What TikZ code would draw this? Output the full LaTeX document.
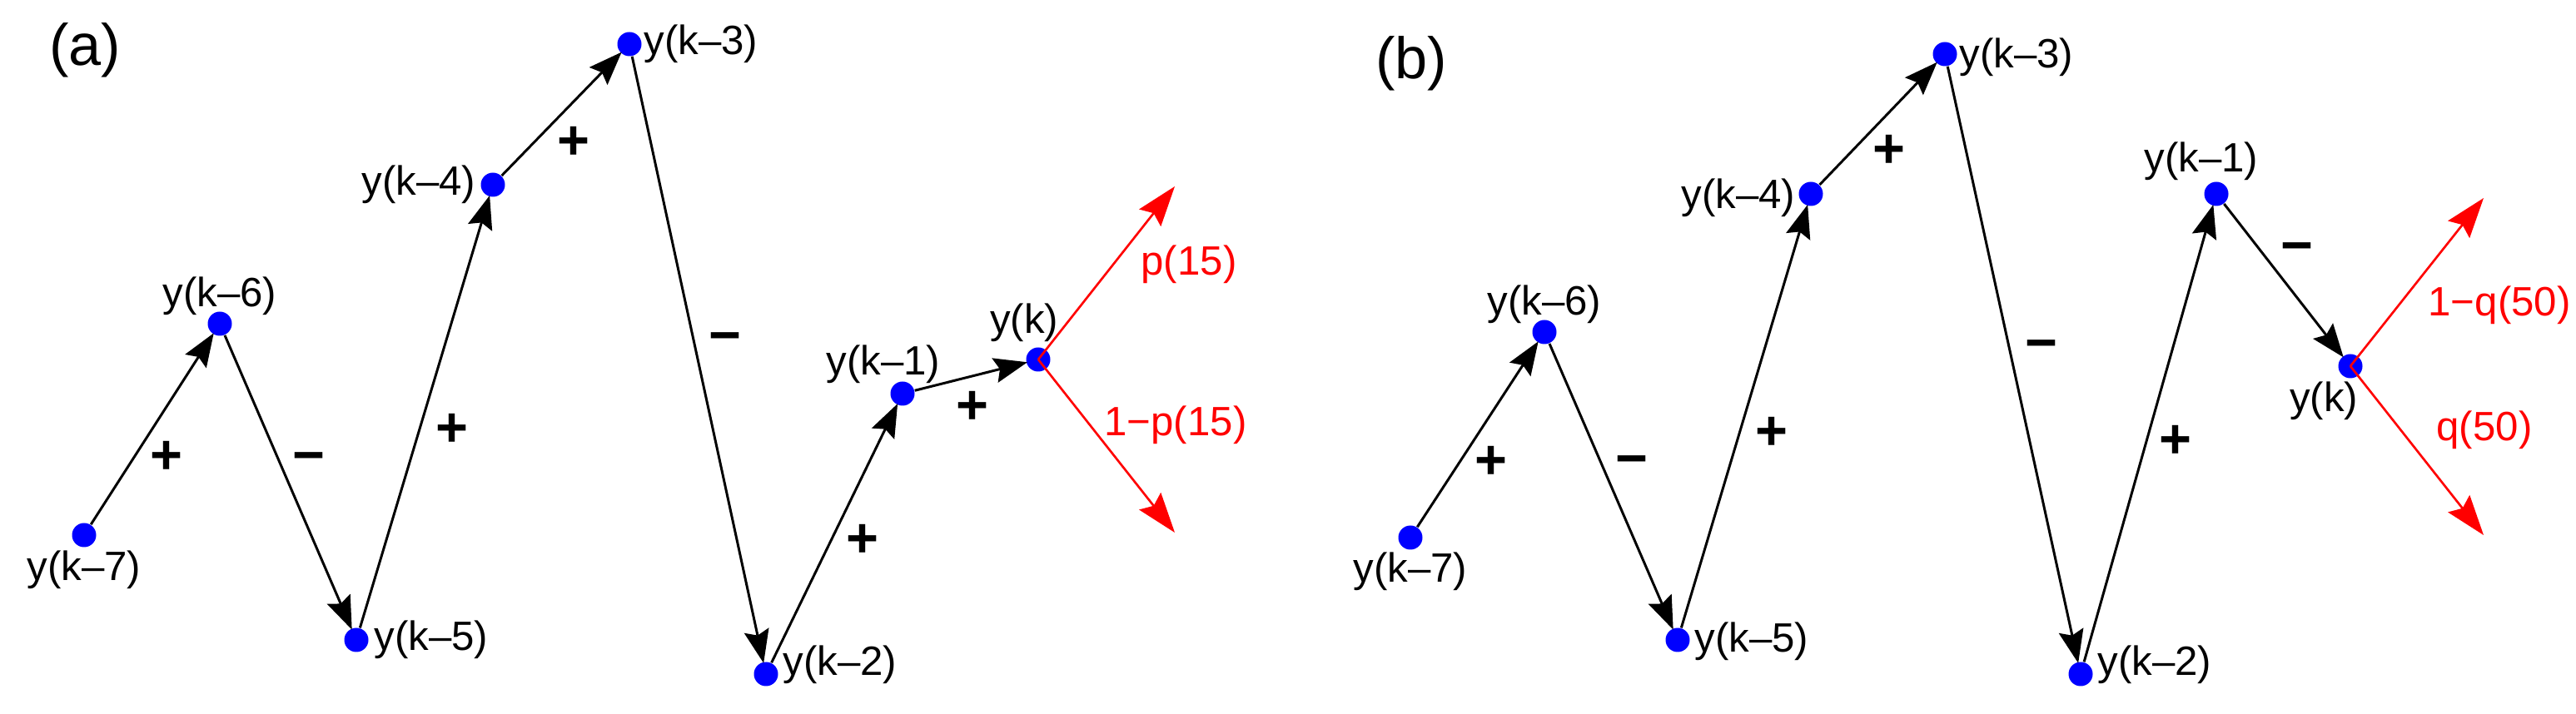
\documentclass[tikz,border=0pt]{standalone}
\usepackage{fontspec}
\setmainfont{Liberation Sans}
\usetikzlibrary{arrows.meta}
\begin{document}
\begin{tikzpicture}[x=1cm,y=1cm,
  dotnode/.style={circle,fill=blue,inner sep=0pt,minimum size=0.29cm},
  lbl/.style={inner sep=0pt,font=\fontsize{14}{16}\selectfont},
  sgn/.style={inner sep=0pt,font=\fontsize{19}{21}\selectfont\bfseries},
  plbl/.style={inner sep=0pt,font=\fontsize{20}{24}\selectfont},
  rlbl/.style={inner sep=0pt,text=red,font=\fontsize{14}{16}\selectfont},
  arr/.style={line width=0.85pt,-{Stealth[length=0.40cm,width=0.30cm,inset=0.06cm]},shorten >=-0.5pt},
  rarr/.style={red,line width=0.75pt,-{Stealth[length=0.48cm,width=0.33cm,inset=0.07cm]}}
]
\useasboundingbox (0,0) rectangle (30.94,-8.58);
% ---------------- panel (a)
\node[plbl] (pa) at (1.02,-0.60) {(a)};
\node[dotnode] (a7) at (1.01,-6.43) {};
\node[dotnode] (a6) at (2.64,-3.89) {};
\node[dotnode] (a5) at (4.28,-7.69) {};
\node[dotnode] (a4) at (5.92,-2.22) {};
\node[dotnode] (a3) at (7.56,-0.53) {};
\node[dotnode] (a2) at (9.20,-8.10) {};
\node[dotnode] (a1) at (10.84,-4.73) {};
\coordinate (a0c) at (12.47,-4.32);
\coordinate (aup) at (14.11,-2.24);
\coordinate (adn) at (14.11,-6.40);
\draw[arr] (a7) -- (a6);
\draw[arr] (a6) -- (a5);
\draw[arr] (a5) -- (a4);
\draw[arr] (a4) -- (a3);
\draw[arr] (a3) -- (a2);
\draw[arr] (a2) -- (a1);
\node[dotnode] (a0) at (a0c) {};
\draw[arr] (a1) -- (a0);
\draw[rarr] (a0.center) -- (aup);
\draw[rarr] (a0.center) -- (adn);
\node[lbl] (la7) at (1.01,-6.85) {y(k–7)};
\node[lbl] (la6) at (2.64,-3.56) {y(k–6)};
\node[lbl] (la5) at (5.18,-7.69) {y(k–5)};
\node[lbl] (la4) at (5.03,-2.22) {y(k–4)};
\node[lbl] (la3) at (8.42,-0.53) {y(k–3)};
\node[lbl] (la2) at (10.09,-7.99) {y(k–2)};
\node[lbl] (la1) at (10.61,-4.38) {y(k–1)};
\node[lbl] (la0) at (12.30,-3.88) {y(k)};
\node[sgn] (sa1) at (2.00,-5.50) {+};
\node[sgn] (sa2) at (3.71,-5.57) {−};
\node[sgn] (sa3) at (5.43,-5.17) {+};
\node[sgn] (sa4) at (6.89,-1.72) {+};
\node[sgn] (sa5) at (8.71,-4.13) {−};
\node[sgn] (sa6) at (10.36,-6.50) {+};
\node[sgn] (sa7) at (11.68,-4.90) {+};
\node[rlbl] (ra1) at (14.28,-3.18) {p(15)};
\node[rlbl] (ra2) at (14.12,-5.11) {1−p(15)};
% ---------------- panel (b)
\node[plbl] (pb) at (16.95,-0.76) {(b)};
\node[dotnode] (b7) at (16.94,-6.46) {};
\node[dotnode] (b6) at (18.55,-3.99) {};
\node[dotnode] (b5) at (20.15,-7.69) {};
\node[dotnode] (b4) at (21.75,-2.33) {};
\node[dotnode] (b3) at (23.36,-0.65) {};
\node[dotnode] (b2) at (24.99,-8.10) {};
\node[dotnode] (b1) at (26.62,-2.33) {};
\coordinate (b0c) at (28.23,-4.40);
\coordinate (bup) at (29.83,-2.38);
\coordinate (bdn) at (29.83,-6.43);
\draw[arr] (b7) -- (b6);
\draw[arr] (b6) -- (b5);
\draw[arr] (b5) -- (b4);
\draw[arr] (b4) -- (b3);
\draw[arr] (b3) -- (b2);
\draw[arr] (b2) -- (b1);
\node[dotnode] (b0) at (b0c) {};
\draw[arr] (b1) -- (b0);
\draw[rarr] (b0.center) -- (bup);
\draw[rarr] (b0.center) -- (bdn);
\node[lbl] (lb7) at (16.94,-6.87) {y(k–7)};
\node[lbl] (lb6) at (18.55,-3.66) {y(k–6)};
\node[lbl] (lb5) at (21.04,-7.71) {y(k–5)};
\node[lbl] (lb4) at (20.88,-2.38) {y(k–4)};
\node[lbl] (lb3) at (24.22,-0.69) {y(k–3)};
\node[lbl] (lb2) at (25.88,-7.99) {y(k–2)};
\node[lbl] (lb1) at (26.44,-1.94) {y(k–1)};
\node[lbl] (lb0) at (27.91,-4.82) {y(k)};
\node[sgn] (sb1) at (17.91,-5.56) {+};
\node[sgn] (sb2) at (19.60,-5.61) {−};
\node[sgn] (sb3) at (21.28,-5.21) {+};
\node[sgn] (sb4) at (22.69,-1.82) {+};
\node[sgn] (sb5) at (24.52,-4.22) {−};
\node[sgn] (sb6) at (26.13,-5.31) {+};
\node[sgn] (sb7) at (27.59,-3.05) {−};
\node[rlbl] (rb1) at (30.02,-3.67) {1−q(50)};
\node[rlbl] (rb2) at (29.84,-5.17) {q(50)};
\end{tikzpicture}
\end{document}
